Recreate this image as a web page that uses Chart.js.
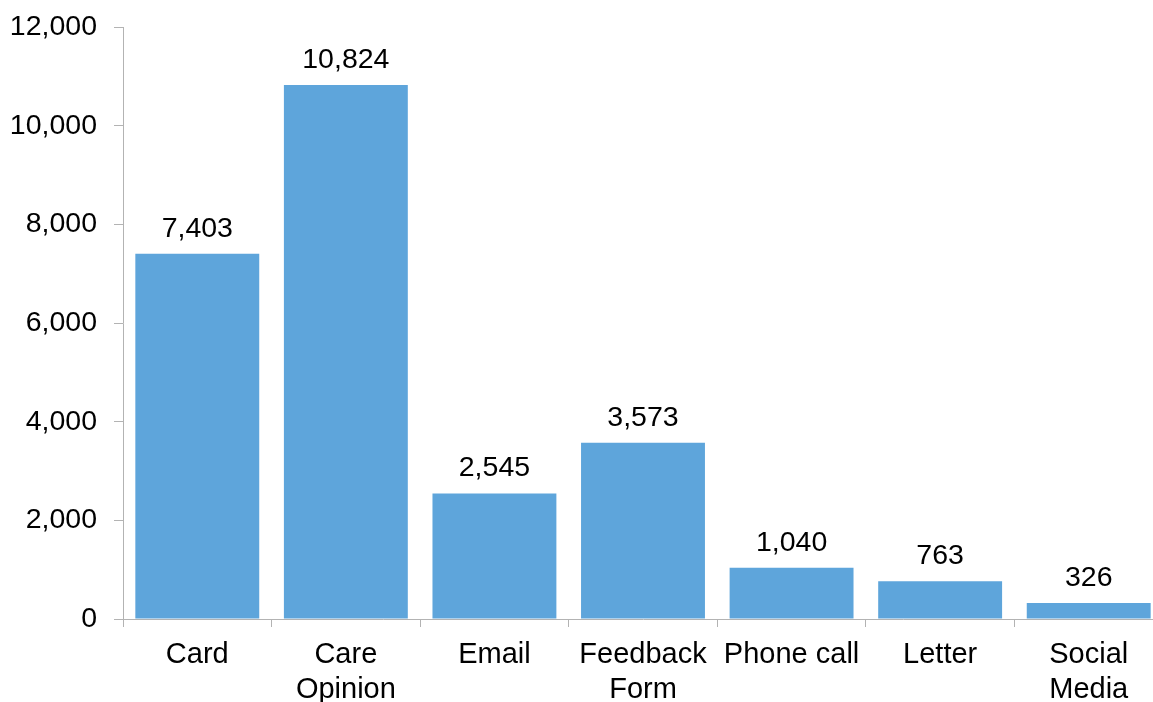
<!DOCTYPE html>
<html>
<head>
<meta charset="utf-8">
<script src="https://cdn.jsdelivr.net/npm/chart.js@4/dist/chart.umd.min.js"></script>
<style>
  html, body { margin: 0; padding: 0; background: #fff; overflow: hidden; }
  #wrap { width: 1163px; height: 702px; }
</style>
</head>
<body>
<div id="wrap"><canvas id="feedbackChart" width="1163" height="702"></canvas></div>
<script>
// Feedback received, by channel
const channels = [
  'Card',
  ['Care', 'Opinion'],
  'Email',
  ['Feedback', 'Form'],
  'Phone call',
  'Letter',
  ['Social', 'Media']
];
const counts = [7403, 10824, 2545, 3573, 1040, 763, 326];
const yTicks = [0, 2000, 4000, 6000, 8000, 10000, 12000];

const FONT = 'Liberation Sans, Arial, sans-serif';
const AXIS_GREY = '#b3b3b3';

const fmt = v => Number(v).toLocaleString('en-US');

// draws the count above each bar
const barValues = {
  id: 'barValues',
  afterDatasetsDraw(chart) {
    const ctx = chart.ctx;
    const meta = chart.getDatasetMeta(0);
    ctx.save();
    ctx.font = '28.5px ' + FONT;
    ctx.fillStyle = '#000';
    ctx.textAlign = 'center';
    ctx.textBaseline = 'alphabetic';
    meta.data.forEach((bar, i) => {
      ctx.fillText(fmt(counts[i]), bar.x, bar.y - 17);
    });
    ctx.restore();
  }
};

new Chart(document.getElementById('feedbackChart'), {
  type: 'bar',
  data: {
    labels: channels,
    datasets: [{
      data: counts,
      backgroundColor: '#5ea5db',
      borderWidth: 0,
      barPercentage: 0.834,
      categoryPercentage: 1.0
    }]
  },
  options: {
    responsive: false,
    animation: false,
    layout: { padding: { top: 27, right: 0, bottom: 0, left: 0 } },
    plugins: {
      legend: { display: false },
      tooltip: { enabled: false }
    },
    scales: {
      x: {
        grid: {
          offset: true,
          drawOnChartArea: false,
          tickLength: 8,
          color: AXIS_GREY
        },
        border: { color: AXIS_GREY, width: 1 },
        ticks: {
          color: '#000',
          maxRotation: 0,
          autoSkip: false,
          padding: 11,
          font: { family: FONT, size: 29, lineHeight: 1.2 }
        },
        afterFit(scale) {
          scale.height = 83;
          scale.paddingLeft = 0;
          scale.paddingRight = 0;
        }
      },
      y: {
        min: 0,
        max: 12000,
        afterBuildTicks(scale) {
          scale.ticks = yTicks.map(v => ({ value: v }));
        },
        grid: {
          drawOnChartArea: false,
          tickLength: 9,
          color: AXIS_GREY
        },
        border: { color: AXIS_GREY, width: 1 },
        ticks: {
          color: '#000',
          padding: 17,
          font: { family: FONT, size: 28.5 },
          callback: v => fmt(v)
        },
        afterFit(scale) {
          scale.width = 123;
          scale.paddingTop = 0;
          scale.paddingBottom = 0;
        }
      }
    }
  },
  plugins: [barValues]
});
</script>
</body>
</html>
